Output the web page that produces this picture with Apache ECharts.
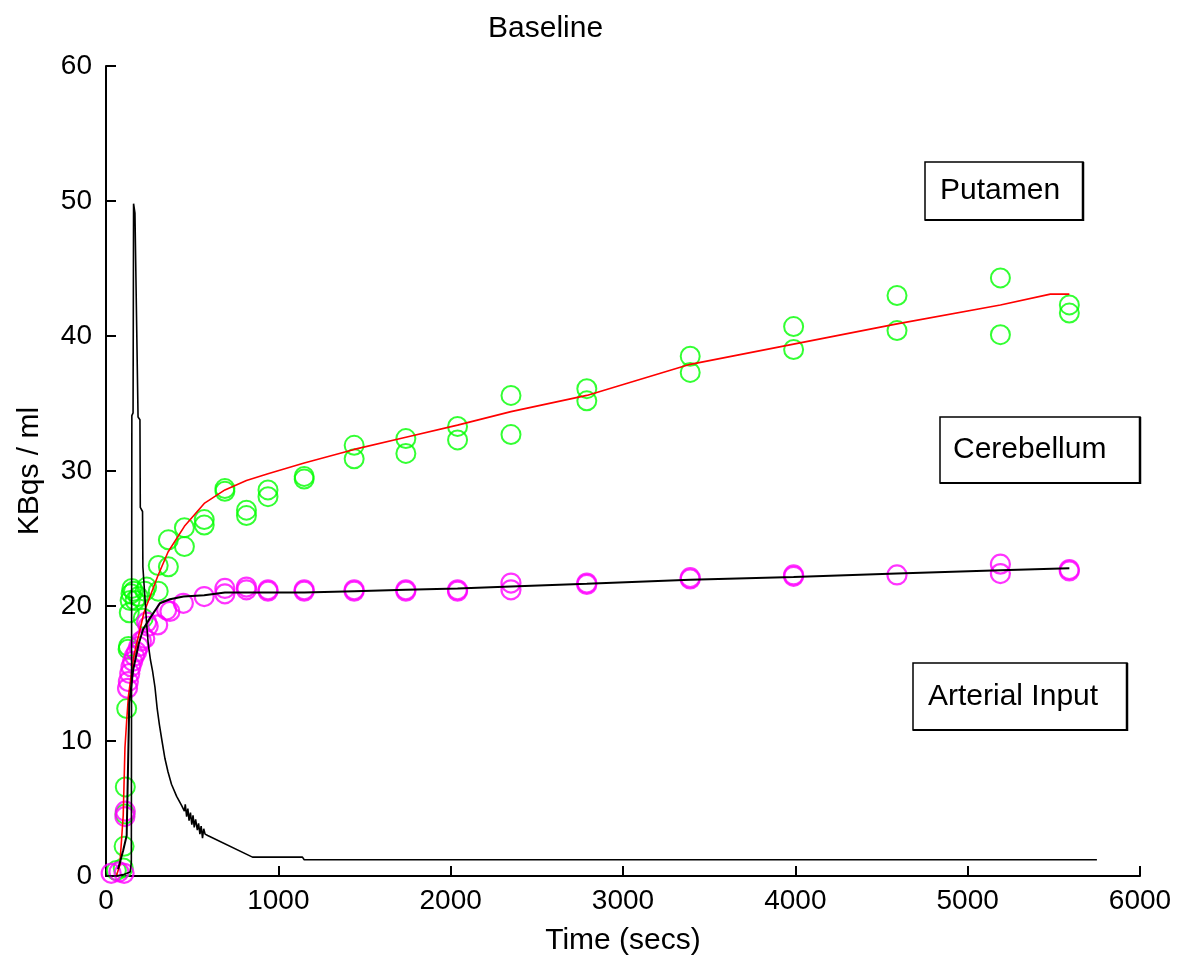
<!DOCTYPE html>
<html>
<head>
<meta charset="utf-8">
<script src="https://cdn.jsdelivr.net/npm/echarts@6/dist/echarts.min.js"></script>
<style>
  html, body { margin: 0; padding: 0; background: #fff; }
  #chart { width: 1178px; height: 965px; }
</style>
</head>
<body>
<div id="chart"></div>
<script>
// Time-activity curves, baseline scan. Times in seconds, activity in KBq/ml.

const xTicks = [0, 1000, 2000, 3000, 4000, 5000, 6000];
const yTicks = [0, 10, 20, 30, 40, 50, 60];

// Measured putamen activity (two samples per frame where available)
const putamenPoints = [
  [60, 0.4], [100, 0.6], [105, 2.2], [110, 4.6], [112, 6.6], [120, 12.4],
  [128, 16.8], [130, 17.0], [135, 19.5], [140, 20.4], [145, 20.9], [150, 21.3],
  [160, 21.1], [168, 20.4], [188, 20.7], [216, 19.1], [226, 21.1], [236, 21.4],
  [303, 21.1], [303, 23.0], [362, 22.9], [362, 24.9], [455, 24.4], [455, 25.8],
  [570, 26.0], [570, 26.4], [690, 28.7], [690, 28.5], [815, 26.7], [815, 27.1],
  [940, 28.1], [940, 28.6], [1150, 29.6], [1150, 29.4], [1440, 30.9], [1440, 31.9],
  [1740, 31.3], [1740, 32.4], [2040, 32.3], [2040, 33.3], [2350, 32.7], [2350, 35.6],
  [2790, 35.2], [2790, 36.1], [3390, 37.3], [3390, 38.5], [3990, 39.0], [3990, 40.7],
  [4590, 40.4], [4590, 43.0], [5190, 40.1], [5190, 44.3], [5590, 41.7], [5590, 42.3]
];

// Measured cerebellum activity
const cerebellumPoints = [
  [30, 0.2], [75, 0.3], [105, 0.2], [110, 4.4], [112, 4.8], [125, 13.9],
  [130, 14.4], [138, 15.0], [145, 15.5], [155, 15.9], [165, 16.3], [178, 16.6],
  [190, 17.0], [205, 17.4], [225, 17.6], [236, 18.8], [245, 18.5], [300, 18.6],
  [352, 19.7], [371, 19.6], [449, 20.2], [570, 20.7], [690, 21.3], [690, 20.9],
  [815, 21.4], [815, 21.2], [940, 21.1], [940, 21.2], [1150, 21.1], [1150, 21.2],
  [1440, 21.1], [1440, 21.2], [1740, 21.2], [1740, 21.1], [2040, 21.2], [2040, 21.1],
  [2350, 21.7], [2350, 21.2], [2790, 21.6], [2790, 21.7], [3390, 22.0], [3390, 22.1],
  [3990, 22.2], [3990, 22.3], [4590, 22.3], [5190, 23.1], [5190, 22.4],
  [5590, 22.7], [5590, 22.6]
];

// Model fit, putamen
const putamenFit = [
  [60, 0], [80, 0.8], [100, 4.5], [110, 9.5], [120, 11.5], [130, 13.3],
  [160, 16.2], [220, 19.5], [300, 22.2], [360, 24.0], [455, 25.9], [570, 27.6],
  [690, 28.6], [815, 29.3], [940, 29.8], [1150, 30.6], [1440, 31.6], [1740, 32.5],
  [2040, 33.4], [2350, 34.4], [2790, 35.6], [3390, 37.9], [3990, 39.4],
  [4590, 40.9], [5190, 42.3], [5480, 43.1], [5590, 43.1]
];

// Model fit, cerebellum
const cerebellumFit = [
  [70, 0.5], [100, 1.9], [120, 3.0], [135, 12.8], [158, 15.3], [190, 17.2],
  [216, 18.3], [255, 19.1], [313, 20.2], [371, 20.5], [450, 20.7], [570, 20.8],
  [690, 21.0], [815, 21.0], [940, 21.0], [1150, 21.0], [1440, 21.1], [1740, 21.2],
  [2040, 21.3], [2350, 21.45], [2790, 21.65], [3390, 21.95], [3990, 22.15],
  [4590, 22.4], [5190, 22.65], [5590, 22.8]
];

// Arterial plasma input function
const arterialInput = [
  [0, 0], [60, 0], [100, 0.1], [140, 0.3], [147, 1.0], [150, 34.1], [157, 34.3],
  [160, 49.8], [168, 49.1], [186, 34.0], [197, 33.8], [199, 27.3], [212, 27.0],
  [214, 22.9], [225, 20.8], [235, 18.8], [245, 17.2], [258, 16.0], [270, 15.2],
  [284, 14.0], [297, 12.4], [310, 11.2], [325, 10.0], [342, 8.7], [360, 7.7],
  [380, 6.8], [410, 5.9], [440, 5.2], [455, 4.8], [460, 5.3], [468, 4.4],
  [475, 5.0], [482, 4.1], [490, 4.7], [498, 3.8], [505, 4.5], [512, 3.6],
  [520, 4.2], [530, 3.4], [537, 3.9], [545, 3.1], [552, 3.7], [560, 2.8],
  [567, 3.5], [575, 3.1], [590, 3.0], [850, 1.4], [1140, 1.4], [1150, 1.2],
  [5750, 1.2]
];

const FONT = '"Liberation Sans", Arial, Helvetica, sans-serif';
const FS_TEXT = 30;   // titles, axis names, annotation boxes
const FS_TICK = 28;   // tick labels

const chart = echarts.init(document.getElementById('chart'), null, { renderer: 'canvas' });

function labelBox(x, y, w, h, text, tx) {
  return {
    type: 'group',
    children: [
      { type: 'rect', shape: { x: x, y: y, width: w, height: h },
        style: { fill: '#fff', stroke: '#000', lineWidth: 1.5 } },
      { type: 'line', shape: { x1: x + w, y1: y, x2: x + w, y2: y + h + 1 },
        style: { stroke: '#000', lineWidth: 2.5 } },
      { type: 'line', shape: { x1: x, y1: y + h, x2: x + w + 1, y2: y + h },
        style: { stroke: '#000', lineWidth: 2.2 } },
      { type: 'text', style: { x: tx, y: y + h / 2, text: text, fill: '#000',
        font: FS_TEXT + 'px ' + FONT, verticalAlign: 'middle', textAlign: 'left' } }
    ]
  };
}

const option = {
  animation: false,
  backgroundColor: '#fff',
  title: {
    text: 'Baseline', left: 488, top: 14, padding: 0,
    textStyle: { fontFamily: FONT, fontSize: FS_TEXT, fontWeight: 'normal', color: '#000' }
  },
  grid: { left: 106, right: 38, top: 66, bottom: 89, containLabel: false },
  xAxis: {
    type: 'value', min: 0, max: 6000, interval: 1000,
    name: 'Time (secs)', nameLocation: 'middle', nameGap: 50,
    nameTextStyle: { fontFamily: FONT, fontSize: FS_TEXT, color: '#000' },
    axisLine: { show: true, onZero: false, lineStyle: { color: '#000', width: 2 } },
    axisTick: { show: true, inside: true, length: 10, lineStyle: { color: '#000', width: 2 } },
    axisLabel: { fontFamily: FONT, fontSize: FS_TICK, color: '#000', margin: 11,
      formatter: v => xTicks.includes(v) ? String(v) : '' },
    splitLine: { show: false }
  },
  yAxis: {
    type: 'value', min: 0, max: 60, interval: 10,
    name: 'KBqs / ml', nameLocation: 'middle', nameGap: 61, nameRotate: 90,
    nameTextStyle: { fontFamily: FONT, fontSize: FS_TEXT, color: '#000' },
    axisLine: { show: true, onZero: false, lineStyle: { color: '#000', width: 2 } },
    axisTick: { show: true, inside: true, length: 10, lineStyle: { color: '#000', width: 2 } },
    axisLabel: { fontFamily: FONT, fontSize: FS_TICK, color: '#000', margin: 14,
      formatter: v => yTicks.includes(v) ? String(v) : '' },
    splitLine: { show: false }
  },
  series: [
    { name: 'Putamen', type: 'scatter', data: putamenPoints, symbol: 'circle', symbolSize: 19,
      itemStyle: { color: 'rgba(0,0,0,0)', borderColor: '#00ff00', borderWidth: 2 }, z: 2 },
    { name: 'Cerebellum', type: 'scatter', data: cerebellumPoints, symbol: 'circle', symbolSize: 19,
      itemStyle: { color: 'rgba(0,0,0,0)', borderColor: '#ff00ff', borderWidth: 2.2 }, z: 3 },
    { name: 'Putamen fit', type: 'line', data: putamenFit, showSymbol: false, smooth: false,
      lineStyle: { color: '#ff0000', width: 1.6 }, z: 4 },
    { name: 'Cerebellum fit', type: 'line', data: cerebellumFit, showSymbol: false, smooth: false,
      lineStyle: { color: '#000', width: 2 }, z: 5 },
    { name: 'Arterial Input', type: 'line', data: arterialInput, showSymbol: false, smooth: false,
      lineStyle: { color: '#000', width: 1.6 }, z: 6 }
  ],
  graphic: [
    labelBox(925, 162, 158, 58, 'Putamen', 940),
    labelBox(940, 417, 200, 66, 'Cerebellum', 953),
    labelBox(913, 663, 214, 67, 'Arterial Input', 928)
  ]
};

chart.setOption(option);
</script>
</body>
</html>
